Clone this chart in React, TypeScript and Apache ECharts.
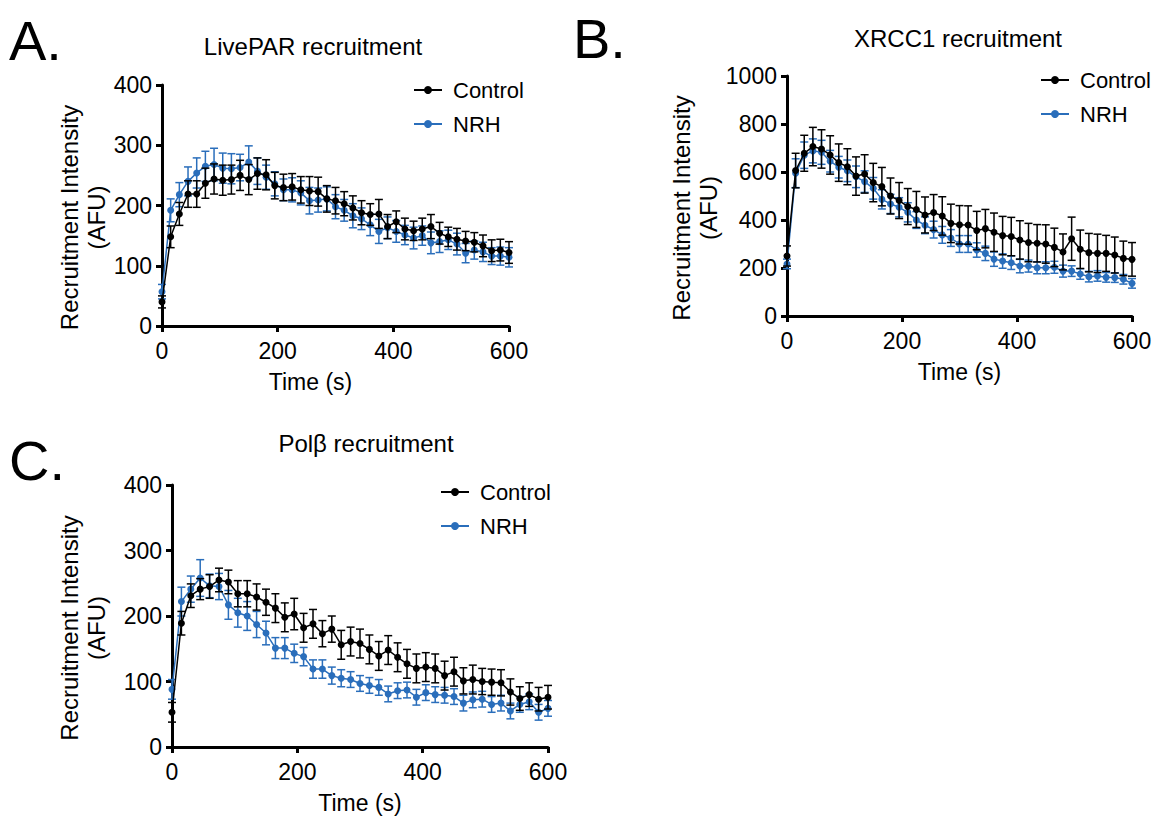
import React, { useEffect, useRef } from "react";
import * as echarts from "echarts";

const time = [0, 15, 30, 45, 60, 75, 90, 105, 120, 135, 150, 165, 180, 195, 210, 225, 240, 255, 270, 285, 300, 315, 330, 345, 360, 375, 390, 405, 420, 435, 450, 465, 480, 495, 510, 525, 540, 555, 570, 585, 600];

// Panel A: LivePAR
const aControl = [40, 148, 186, 219, 219, 237, 244, 242, 243, 250, 243, 253, 251, 233, 230, 231, 226, 224, 223, 211, 208, 203, 196, 188, 185, 186, 165, 173, 161, 158, 161, 165, 154, 148, 144, 141, 139, 133, 125, 126, 122];
const aControlErr = [10, 18, 19, 22, 22, 25, 25, 25, 24, 25, 25, 26, 25, 22, 22, 22, 22, 24, 24, 22, 22, 20, 20, 20, 18, 24, 20, 18, 18, 16, 18, 20, 18, 16, 18, 16, 16, 18, 18, 18, 18];
const aNRH = [57, 192, 218, 240, 254, 265, 268, 262, 261, 263, 272, 257, 247, 236, 226, 226, 221, 208, 209, 211, 198, 192, 183, 178, 168, 157, 163, 157, 151, 146, 150, 138, 140, 143, 136, 121, 126, 123, 116, 116, 114];
const aNRHErr = [12, 19, 20, 24, 25, 25, 27, 25, 25, 22, 27, 22, 20, 20, 18, 20, 20, 22, 20, 20, 20, 18, 20, 18, 18, 20, 18, 18, 16, 18, 16, 18, 18, 16, 18, 16, 15, 16, 14, 15, 16];

// Panel B: XRCC1
const bControl = [250, 606, 678, 706, 696, 671, 639, 622, 583, 592, 556, 539, 500, 481, 456, 444, 421, 431, 417, 386, 380, 379, 356, 364, 349, 335, 331, 317, 306, 303, 300, 286, 267, 322, 278, 264, 261, 261, 254, 240, 236];
const bControlErr = [42, 72, 75, 80, 80, 80, 78, 75, 80, 80, 80, 80, 75, 75, 75, 75, 75, 75, 80, 80, 80, 80, 80, 80, 80, 80, 80, 80, 80, 78, 80, 80, 75, 90, 80, 80, 80, 75, 75, 72, 70];
const bNRH = [217, 595, 670, 688, 682, 645, 620, 605, 580, 560, 532, 486, 467, 453, 432, 400, 378, 360, 338, 325, 300, 300, 275, 261, 237, 229, 222, 208, 208, 201, 201, 203, 187, 187, 175, 164, 167, 161, 160, 153, 136];
const bNRHErr = [20, 60, 55, 50, 50, 45, 45, 45, 45, 45, 45, 40, 40, 40, 40, 35, 35, 35, 35, 35, 35, 35, 30, 30, 30, 30, 28, 28, 25, 25, 25, 25, 25, 22, 22, 22, 22, 20, 20, 20, 20];

// Panel C: Pol beta
const cControl = [53, 189, 231, 241, 245, 255, 252, 234, 234, 229, 221, 212, 198, 203, 182, 188, 173, 180, 156, 161, 158, 149, 139, 148, 137, 127, 120, 122, 120, 109, 115, 101, 103, 100, 99, 98, 84, 74, 80, 73, 76];
const cControlErr = [15, 18, 18, 16, 18, 18, 18, 20, 20, 20, 20, 22, 22, 24, 22, 22, 20, 20, 22, 22, 22, 22, 22, 22, 22, 22, 22, 22, 22, 22, 22, 20, 22, 20, 20, 20, 20, 18, 18, 18, 18];
const cNRH = [88, 222, 241, 258, 246, 245, 217, 205, 200, 187, 174, 151, 151, 143, 138, 119, 119, 109, 105, 103, 97, 94, 91, 81, 86, 87, 76, 83, 80, 79, 77, 67, 72, 73, 65, 67, 55, 65, 69, 53, 59];
const cNRHErr = [15, 22, 20, 28, 18, 20, 22, 22, 22, 20, 18, 16, 16, 14, 14, 14, 14, 13, 13, 12, 12, 12, 12, 12, 12, 12, 12, 12, 12, 12, 12, 12, 12, 12, 12, 12, 12, 12, 12, 12, 12];

const titles = ["LivePAR recruitment", "XRCC1 recruitment", "Polβ recruitment"];
const letters = ["A.", "B.", "C."];
const seriesNames = ["Control", "NRH"];
const yMax = [400, 1000, 400];
const yInterval = [100, 200, 100];

const FONT = '"Liberation Sans", Arial, Helvetica, sans-serif';
const BLACK = "#000000";
const BLUE = "#2a6ebb";

const grids = [
  { left: 162, top: 85, width: 347, height: 241 },
  { left: 787, top: 76, width: 345, height: 240 },
  { left: 172, top: 485, width: 376, height: 262 },
];
const nameGaps = [52, 53, 62];
const xNamePad = [
  [0, 50, 0, 0],
  [0, 0, 0, 0],
  [0, 0, 0, 0],
];
const legendPos = [
  { left: 413, top: 79 },
  { left: 1040, top: 69 },
  { left: 440, top: 481 },
];
const titlePos = [
  [313, 46],
  [958, 38],
  [366, 443],
];
const letterPos = [
  [9, 40],
  [573, 38],
  [9, 460],
];

function errorSeries(idx: number, color: string, vals: number[], errs: number[], z: number) {
  return {
    type: "custom",
    name: "err" + idx + color,
    xAxisIndex: idx,
    yAxisIndex: idx,
    silent: true,
    z,
    encode: { x: 0, y: [1, 2] },
    data: time.map((t, k) => [t, vals[k] - errs[k], vals[k] + errs[k]]),
    renderItem: (params: any, api: any) => {
      const x = api.value(0);
      const lo = api.coord([x, api.value(1)]);
      const hi = api.coord([x, api.value(2)]);
      const w = 4;
      const st = { stroke: color, lineWidth: 1.5 };
      return {
        type: "group",
        children: [
          { type: "line", shape: { x1: lo[0], y1: lo[1], x2: hi[0], y2: hi[1] }, style: st },
          { type: "line", shape: { x1: lo[0] - w, y1: lo[1], x2: lo[0] + w, y2: lo[1] }, style: st },
          { type: "line", shape: { x1: hi[0] - w, y1: hi[1], x2: hi[0] + w, y2: hi[1] }, style: st },
        ],
      };
    },
  };
}

function lineSeries(idx: number, name: string, color: string, vals: number[], z: number) {
  return {
    type: "line",
    name,
    xAxisIndex: idx,
    yAxisIndex: idx,
    data: time.map((t, k) => [t, vals[k]]),
    symbol: "circle",
    symbolSize: 7,
    showAllSymbol: true,
    itemStyle: { color },
    lineStyle: { color, width: 1.5 },
    z,
  };
}

export default function App() {
  const ref = useRef<HTMLDivElement>(null);
  useEffect(() => {
    if (!ref.current) return;
    const chart = echarts.init(ref.current, undefined, { renderer: "svg" });
    const panels = [
      [aControl, aControlErr, aNRH, aNRHErr],
      [bControl, bControlErr, bNRH, bNRHErr],
      [cControl, cControlErr, cNRH, cNRHErr],
    ];
    const axisCommon = {
      axisLine: { show: true, onZero: false, lineStyle: { color: BLACK, width: 3 } },
      axisTick: { show: true, length: 6, lineStyle: { color: BLACK, width: 3 } },
      splitLine: { show: false },
    };
    const labelStyle = { color: BLACK, fontSize: 23, fontFamily: FONT };
    const series: any[] = [];
    panels.forEach((p, i) => {
      const [ctl, ctlErr, nrh, nrhErr] = p;
      series.push(errorSeries(i, BLUE, nrh, nrhErr, 2));
      series.push(lineSeries(i, "NRH", BLUE, nrh, 3));
      series.push(errorSeries(i, BLACK, ctl, ctlErr, 4));
      series.push(lineSeries(i, "Control", BLACK, ctl, 5));
    });
    const graphics: any[] = [];
    titles.forEach((t, i) => {
      graphics.push({
        type: "text",
        x: titlePos[i][0],
        y: titlePos[i][1],
        style: { text: t, fill: BLACK, font: `24px ${FONT}`, textAlign: "center", textVerticalAlign: "middle" },
      });
      graphics.push({
        type: "text",
        x: letterPos[i][0],
        y: letterPos[i][1],
        style: { text: letters[i], fill: BLACK, font: `56px ${FONT}`, textAlign: "left", textVerticalAlign: "middle" },
      });
    });
    chart.setOption({
      animation: false,
      backgroundColor: "#ffffff",
      grid: grids.map((g) => ({ ...g, containLabel: false })),
      xAxis: grids.map((_, i) => ({
        ...axisCommon,
        gridIndex: i,
        type: "value",
        min: 0,
        max: 600,
        interval: 200,
        axisLabel: { ...labelStyle, margin: 13 },
        name: "Time (s)",
        nameLocation: "middle",
        nameGap: 44,
        nameTextStyle: { ...labelStyle, padding: xNamePad[i] },
      })),
      yAxis: grids.map((_, i) => ({
        ...axisCommon,
        gridIndex: i,
        type: "value",
        min: 0,
        max: yMax[i],
        interval: yInterval[i],
        axisLabel: { ...labelStyle, margin: 10, formatter: (v: number) => String(v) },
        name: "Recruitment Intensity\n(AFU)",
        nameLocation: "middle",
        nameGap: nameGaps[i],
        nameTextStyle: { ...labelStyle, fontSize: 24, lineHeight: 27, padding: [0, 24, 0, 0] },
      })),
      legend: legendPos.map((lp) => ({
        ...lp,
        orient: "vertical",
        padding: 0,
        data: seriesNames,
        itemWidth: 28,
        itemHeight: 10,
        itemGap: 12,
        selectedMode: false,
        textStyle: { color: BLACK, fontSize: 22, fontFamily: FONT, padding: [0, 0, 0, 6] },
      })),
      graphic: graphics,
      series,
    });
    return () => chart.dispose();
  }, []);
  return (
    <div
      ref={ref}
      style={{ position: "fixed", left: 0, top: 0, width: 1164, height: 824, background: "#fff" }}
    />
  );
}
